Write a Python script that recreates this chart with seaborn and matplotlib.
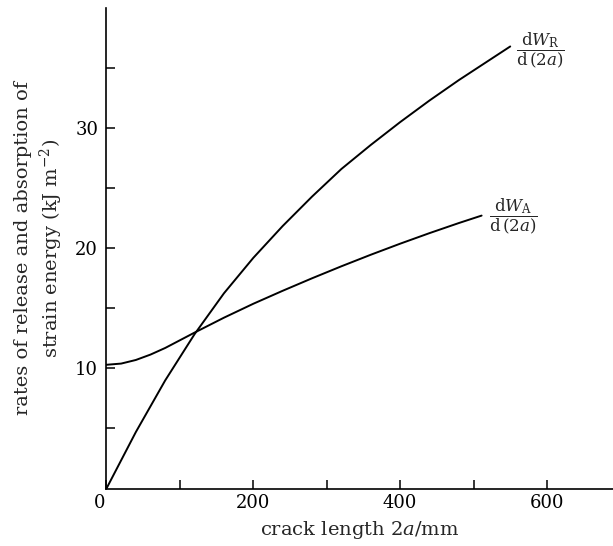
import matplotlib
matplotlib.use("Agg")
import matplotlib.pyplot as plt
import matplotlib.transforms as mtransforms
import seaborn as sns
import pandas as pd

# ---- data ----
crack_R = [0, 40, 80, 120, 160, 200, 240, 280, 320, 360, 400, 440, 480, 520, 550]
rate_R = [0.0, 4.7, 9.0, 12.85, 16.25, 19.2, 21.85, 24.3, 26.6, 28.6, 30.5,
          32.3, 34.0, 35.6, 36.8]

crack_A = [0, 20, 40, 60, 80, 120, 160, 200, 240, 280, 320, 360, 400, 440, 480, 511]
rate_A = [10.3, 10.4, 10.7, 11.15, 11.7, 12.98, 14.22, 15.38, 16.46, 17.5, 18.5,
          19.46, 20.38, 21.26, 22.1, 22.72]

x_ticks = [0, 100, 200, 300, 400, 500, 600]
x_ticklabels = ["0", "", "200", "", "400", "", "600"]
y_ticks = [5, 10, 15, 20, 25, 30, 35]
y_ticklabels = ["", "10", "", "20", "", "30", ""]

label_R = r"$\dfrac{\mathrm{d}W_{\mathrm{R}}}{\mathrm{d}\,(2a)}$"
label_A = r"$\dfrac{\mathrm{d}W_{\mathrm{A}}}{\mathrm{d}\,(2a)}$"
xlabel = r"crack length 2$a$/mm"
ylabel = "rates of release and absorption of\nstrain energy (kJ m$^{-2}$)"

sns.set_theme(style="ticks")
plt.rcParams["font.family"] = ["DejaVu Serif"]
plt.rcParams["mathtext.fontset"] = "dejavuserif"

df_R = pd.DataFrame({"x": crack_R, "y": rate_R})
df_A = pd.DataFrame({"x": crack_A, "y": rate_A})

fig = plt.figure(figsize=(6.13, 5.46), dpi=100)
ax = fig.add_axes([0.1737, 0.1053, 0.8263, 0.8800])

sns.lineplot(data=df_R, x="x", y="y", ax=ax, color="black", linewidth=1.4,
             sort=False, estimator=None)
sns.lineplot(data=df_A, x="x", y="y", ax=ax, color="black", linewidth=1.4,
             sort=False, estimator=None)

ax.set_xlim(0, 690)
ax.set_ylim(0, 40)
ax.set_xticks(x_ticks)
ax.set_xticklabels(x_ticklabels)
ax.set_yticks(y_ticks)
ax.set_yticklabels(y_ticklabels)

for s in ["top", "right"]:
    ax.spines[s].set_visible(False)
for s in ["left", "bottom"]:
    ax.spines[s].set_color("black")
    ax.spines[s].set_linewidth(1.2)

ax.tick_params(axis="both", direction="in", length=6.5, width=1.1,
               colors="black", labelsize=13)
ax.tick_params(axis="x", pad=4)
ax.tick_params(axis="y", pad=6)

# shift the origin "0" slightly left as in the reference
offset = mtransforms.ScaledTranslation(-7 / 100, 0, fig.dpi_scale_trans)
lbl0 = ax.get_xticklabels()[0]
lbl0.set_transform(lbl0.get_transform() + offset)

ax.set_xlabel(xlabel, fontsize=14, labelpad=5)
ax.set_ylabel(ylabel, fontsize=14, labelpad=7, linespacing=1.3)

ax.annotate(label_R, xy=(crack_R[-1], rate_R[-1]), xytext=(4, -3),
            textcoords="offset points", ha="left", va="center", fontsize=12)
ax.annotate(label_A, xy=(crack_A[-1], rate_A[-1]), xytext=(5, -1),
            textcoords="offset points", ha="left", va="center", fontsize=12)

ax.grid(False)
fig.savefig("out.png", dpi=100)
